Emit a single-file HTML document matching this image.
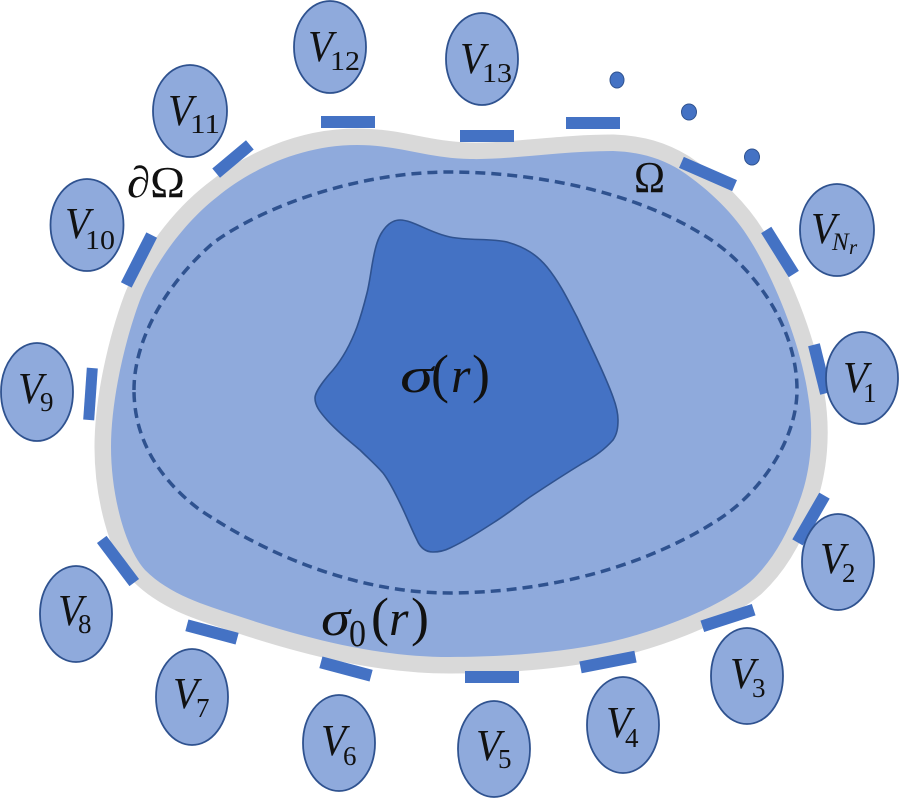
<!DOCTYPE html>
<html><head><meta charset="utf-8"><style>
html,body{margin:0;padding:0;background:#fff}
svg{display:block}
text{font-family:"Liberation Serif",serif;fill:#111}
.v{font-style:italic;font-size:44px}
.s{font-size:27px}
.m{font-size:50px}
.p{font-size:54px}
</style></head><body>
<svg width="900" height="800" viewBox="0 0 900 800" xmlns="http://www.w3.org/2000/svg">
<path d="M357 145C400 145 425 158 470 159C510 160 560 151 613 151C640 152 660 158 680 170C710 190 735 215 750 240C772 275 800 340 808 395C814 430 812 470 798 505C787 535 772 562 750 582C725 603 670 628 610 642C560 653 500 657 450 657C380 657 310 640 235 615C205 605 170 595 145 570C125 548 111 495 111 447C111 400 125 340 140 300C155 262 185 222 217 197C250 170 300 145 357 145Z" fill="#8faadc" stroke="#d9d9d9" stroke-width="33" stroke-linejoin="round" paint-order="stroke"/>
<path d="M134 390C134 340 165 285 213 243C265 205 360 172 450 172C530 172 630 190 700 233C745 258 797 320 797 390C797 440 760 495 713 523C670 550 580 592 450 593C350 593 260 550 200 510C160 480 134 440 134 390Z" fill="none" stroke="#2f528f" stroke-width="3.5" stroke-dasharray="10 6"/>
<path d="M400 220C413 220 430 233 450 237C470 241 490 238 507 242C525 247 537 255 547 267C560 283 568 300 577 317C590 345 604 372 613 397C616 405 618 412 618 420C618 428 617 434 613 440C605 449 596 456 583 463C565 474 548 485 530 497C517 506 506 515 493 523C479 532 465 541 450 548C444 551 439 552 433 552C425 552 420 547 417 540C411 528 406 515 400 503C395 493 390 482 383 473C376 465 368 458 360 450C348 440 337 431 327 420C320 412 315 406 315 398C315 392 324 380 333 370C343 358 351 343 357 327C362 313 364 305 367 293C371 277 372 258 377 243C381 231 389 220 400 220Z" fill="#4472c4" stroke="#2f528f" stroke-width="1.6"/>
<g fill="#4472c4">
<rect x="-27" y="-6" width="54" height="12" transform="translate(348 122)"/>
<rect x="-27" y="-6" width="54" height="12" transform="translate(487 136)"/>
<rect x="-27" y="-6" width="54" height="12" transform="translate(593 123)"/>
<rect x="-29" y="-6" width="58" height="12" transform="translate(708 174) rotate(23.6)"/>
<rect x="-26" y="-6" width="52" height="12" transform="translate(780 252) rotate(58)"/>
<rect x="-25" y="-6" width="50" height="12" transform="translate(820 369) rotate(76)"/>
<rect x="-27" y="-6" width="54" height="12" transform="translate(811 519) rotate(-60)"/>
<rect x="-27" y="-6" width="54" height="12" transform="translate(728 618) rotate(-18)"/>
<rect x="-28" y="-6" width="56" height="12" transform="translate(608 662) rotate(-11)"/>
<rect x="-27" y="-6" width="54" height="12" transform="translate(492 677)"/>
<rect x="-26" y="-6" width="52" height="12" transform="translate(346 669) rotate(15)"/>
<rect x="-26" y="-6" width="52" height="12" transform="translate(212 632) rotate(15)"/>
<rect x="-27" y="-6" width="54" height="12" transform="translate(118 561) rotate(53)"/>
<rect x="-26" y="-5.5" width="52" height="11" transform="translate(90.500 394) rotate(94)"/>
<rect x="-28" y="-6" width="56" height="12" transform="translate(139 260) rotate(-63)"/>
<rect x="-22" y="-6" width="44" height="12" transform="translate(233 159) rotate(-40)"/>
</g>
<g fill="#4472c4" stroke="#2f528f" stroke-width="1">
<ellipse cx="617" cy="80" rx="7" ry="8"/>
<ellipse cx="689" cy="112" rx="7.5" ry="8"/>
<ellipse cx="752" cy="157" rx="7.5" ry="8"/>
</g>
<g fill="#8faadc" stroke="#2f528f" stroke-width="1.8">
<ellipse cx="330" cy="47" rx="36" ry="46"/>
<ellipse cx="190" cy="111" rx="37" ry="46"/>
<ellipse cx="87" cy="225" rx="36.500" ry="46"/>
<ellipse cx="37" cy="392" rx="36" ry="49"/>
<ellipse cx="482" cy="59" rx="36" ry="46"/>
<ellipse cx="837" cy="230" rx="37" ry="46"/>
<ellipse cx="862" cy="378" rx="36" ry="46"/>
<ellipse cx="838" cy="562" rx="36" ry="48"/>
<ellipse cx="747" cy="676" rx="36" ry="48"/>
<ellipse cx="623" cy="725" rx="36" ry="48"/>
<ellipse cx="494" cy="749" rx="36" ry="48"/>
<ellipse cx="339" cy="743" rx="36" ry="48"/>
<ellipse cx="192" cy="697" rx="36" ry="48"/>
<ellipse cx="76" cy="614" rx="36" ry="48"/>
</g>
<text class="v" x="308" y="61" textLength="25" lengthAdjust="spacingAndGlyphs">V</text><text class="s" x="330" y="70" textLength="30" lengthAdjust="spacingAndGlyphs">12</text>
<text class="v" x="168" y="125" textLength="25" lengthAdjust="spacingAndGlyphs">V</text><text class="s" x="190" y="133" textLength="30" lengthAdjust="spacingAndGlyphs">11</text>
<text class="v" x="65" y="238" textLength="25" lengthAdjust="spacingAndGlyphs">V</text><text class="s" x="85" y="249" textLength="30" lengthAdjust="spacingAndGlyphs">10</text>
<text class="v" x="460" y="73" textLength="25" lengthAdjust="spacingAndGlyphs">V</text><text class="s" x="482" y="82" textLength="30" lengthAdjust="spacingAndGlyphs">13</text>
<text class="v" x="18" y="403" textLength="25" lengthAdjust="spacingAndGlyphs">V</text><text class="s" x="40" y="411">9</text>
<text class="v" x="58" y="625" textLength="25" lengthAdjust="spacingAndGlyphs">V</text><text class="s" x="78" y="633">8</text>
<text class="v" x="173" y="708" textLength="25" lengthAdjust="spacingAndGlyphs">V</text><text class="s" x="196" y="717">7</text>
<text class="v" x="321" y="755" textLength="25" lengthAdjust="spacingAndGlyphs">V</text><text class="s" x="343" y="765">6</text>
<text class="v" x="476" y="760" textLength="25" lengthAdjust="spacingAndGlyphs">V</text><text class="s" x="498" y="768">5</text>
<text class="v" x="606" y="737" textLength="25" lengthAdjust="spacingAndGlyphs">V</text><text class="s" x="625" y="747">4</text>
<text class="v" x="730" y="688" textLength="25" lengthAdjust="spacingAndGlyphs">V</text><text class="s" x="752" y="697">3</text>
<text class="v" x="820" y="573" textLength="25" lengthAdjust="spacingAndGlyphs">V</text><text class="s" x="842" y="582">2</text>
<text class="v" x="843" y="392" textLength="25" lengthAdjust="spacingAndGlyphs">V</text><text class="s" x="863" y="402">1</text>
<text class="v" x="811" y="243" textLength="25" lengthAdjust="spacingAndGlyphs">V</text><text x="832" y="250" font-size="25" font-style="italic">N</text><text x="849" y="254" font-size="21" font-style="italic">r</text>
<text class="m" x="400" y="392" font-style="italic" textLength="33" lengthAdjust="spacingAndGlyphs">σ</text><text class="p" x="431" y="392">(</text><text class="m" x="451" y="392" font-style="italic">r</text><text class="p" x="472" y="392">)</text>
<text class="m" x="321" y="635" font-style="italic" textLength="29" lengthAdjust="spacingAndGlyphs">σ</text><text x="349" y="646" font-size="38" textLength="17" lengthAdjust="spacingAndGlyphs">0</text><text class="p" x="371" y="635">(</text><text class="m" x="389" y="635" font-style="italic">r</text><text class="p" x="411" y="635">)</text>
<text x="127" y="197" font-size="44" textLength="58" lengthAdjust="spacingAndGlyphs">∂Ω</text>
<text x="634" y="192" font-size="44" textLength="31" lengthAdjust="spacingAndGlyphs">Ω</text>
</svg>
</body></html>
